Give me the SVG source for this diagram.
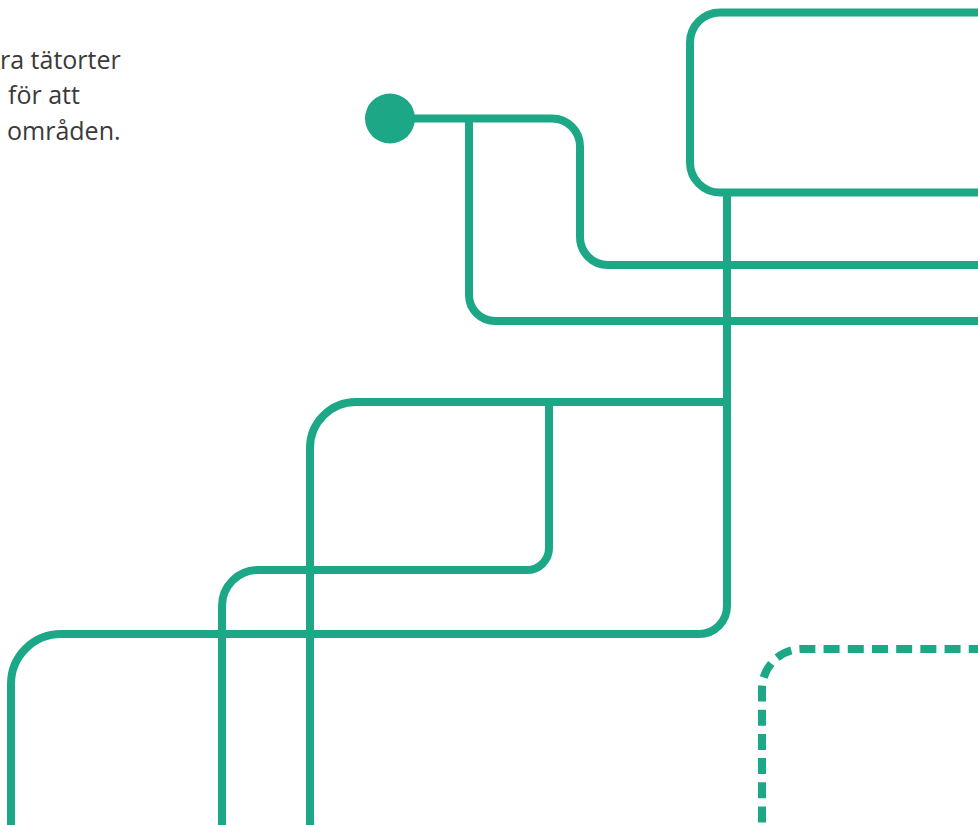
<svg xmlns="http://www.w3.org/2000/svg" width="978" height="825" viewBox="0 0 978 825">
<style>
.ln{fill:none;stroke:#1ca886;stroke-width:8;stroke-linecap:butt;stroke-linejoin:round}
.dash{fill:none;stroke:#1ca886;stroke-width:8;stroke-dasharray:16 8.2;stroke-dashoffset:16.7}
.tx{font-family:"Open Sans","Liberation Sans",sans-serif;font-size:25px;fill:#3a3a3a}
</style>
<rect width="978" height="825" fill="#ffffff"/>
<g id="text">
<text class="tx" x="0" y="69">ra tätorter</text>
<text class="tx" x="8" y="104">för att</text>
<text class="tx" x="7" y="140">områden.</text>
</g>
<g id="connectors">
<path class="ln" d="M410,118.5 H552 A28,28 0 0 1 580,146.5 V237 A28,28 0 0 0 608,265 H990"/>
<path class="ln" d="M469,118.5 V295 A26,26 0 0 0 495,321 H990"/>
<path class="ln" d="M727,192.5 V606 A28,28 0 0 1 699,634 H61 A50,50 0 0 0 11,684 V830"/>
<path class="ln" d="M727,402 H356 A46,46 0 0 0 310,448 V830"/>
<path class="ln" d="M549,402 V548 A22,22 0 0 1 527,570 H258 A36,36 0 0 0 222,606 V830"/>
</g>
<g id="start-node">
<circle cx="390" cy="118.5" r="25" fill="#1ca886"/>
</g>
<g id="top-box">
<path class="ln" d="M990,12.5 H720 A30,30 0 0 0 690,42.5 V162.5 A30,30 0 0 0 720,192.5 H990"/>
</g>
<g id="dashed-box">
<path class="dash" d="M762,830 V689 A40,40 0 0 1 802,649 H990"/>
</g>
</svg>
